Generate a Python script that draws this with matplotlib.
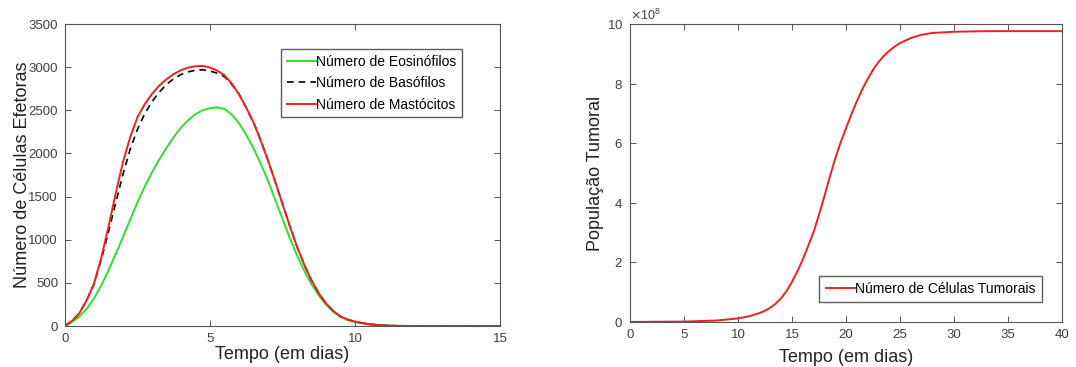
import numpy as np
import matplotlib
matplotlib.use("Agg")
from matplotlib import pyplot as plt
from matplotlib.ticker import ScalarFormatter

plt.rcParams['font.family'] = ['Liberation Sans', 'DejaVu Sans']

# Left panel: effector cells
t_cells = [0, 0.25, 0.5, 0.75, 1, 1.25, 1.5, 1.75, 2, 2.25, 2.5, 2.75, 3, 3.25, 3.5, 3.75,
           4, 4.25, 4.5, 4.75, 5, 5.25, 5.5, 5.75, 6, 6.25, 6.5, 6.75, 7, 7.25, 7.5, 7.75,
           8, 8.25, 8.5, 8.75, 9, 9.25, 9.5, 9.75, 10, 10.5, 11, 11.5, 12, 13, 14, 15]
eosinofilos = [0, 50, 110, 200, 320, 470, 645, 835, 1030, 1235, 1435, 1615, 1780, 1930, 2065, 2190,
               2300, 2385, 2455, 2500, 2525, 2535, 2515, 2450, 2350, 2215, 2060, 1880, 1685, 1460, 1242, 1020,
               820, 640, 485, 355, 248, 165, 105, 70, 45, 18, 6, 2, 0, 0, 0, 0]
basofilos = [0, 60, 150, 300, 485, 770, 1090, 1430, 1760, 2050, 2280, 2460, 2600, 2710, 2800, 2865,
             2915, 2945, 2965, 2970, 2955, 2930, 2890, 2800, 2685, 2530, 2360, 2150, 1920, 1670, 1415, 1160,
             920, 710, 530, 380, 262, 175, 110, 75, 50, 20, 6, 2, 0, 0, 0, 0]
mastocitos = [0, 60, 150, 300, 490, 790, 1150, 1540, 1900, 2190, 2420, 2570, 2690, 2785, 2860, 2920,
              2965, 2995, 3010, 3015, 2995, 2960, 2905, 2810, 2685, 2530, 2360, 2150, 1920, 1670, 1415, 1160,
              920, 710, 530, 380, 262, 175, 110, 75, 50, 20, 6, 2, 0, 0, 0, 0]

# Right panel: tumour population
t_tumor = [0, 5, 8, 10, 11, 12, 12.5, 13, 13.5, 14, 14.5, 15, 15.5, 16, 16.5, 17, 17.5, 18, 18.5, 19, 19.5,
           20, 20.5, 21, 21.5, 22, 22.5, 23, 23.5, 24, 24.5, 25, 26, 27, 28, 30, 33, 40]
tumor = [0.002e8, 0.015e8, 0.05e8, 0.12e8, 0.19e8, 0.3e8, 0.38e8, 0.48e8, 0.62e8, 0.8e8, 1.04e8, 1.35e8,
         1.7e8, 2.1e8, 2.55e8, 3.02e8, 3.6e8, 4.22e8, 4.87e8, 5.48e8, 6.02e8, 6.5e8, 6.97e8, 7.4e8, 7.8e8,
         8.15e8, 8.46e8, 8.72e8, 8.93e8, 9.1e8, 9.24e8, 9.36e8, 9.53e8, 9.64e8, 9.7e8, 9.74e8, 9.76e8, 9.76e8]

green = '#2ee02e'
red = '#ee2020'
edge = '#555555'
tick_col = '#404040'

fig = plt.figure(figsize=(10.76, 3.67), dpi=100)
ax1 = fig.add_axes([0.0604, 0.1117, 0.4043, 0.8229])
ax2 = fig.add_axes([0.5855, 0.1226, 0.4015, 0.8120])

ax1.plot(t_cells, eosinofilos, color=green, lw=1.4, label='Número de Eosinófilos')
ax1.plot(t_cells, basofilos, color='black', lw=1.2, ls=(0, (4, 3)), label='Número de Basófilos')
ax1.plot(t_cells, mastocitos, color=red, lw=1.4, label='Número de Mastócitos')
ax1.set_xlim(0, 15)
ax1.set_ylim(0, 3500)
ax1.set_xticks([0, 5, 10, 15])
ax1.set_yticks(np.arange(0, 3501, 500))
ax1.set_xlabel('Tempo (em dias)', fontsize=13, labelpad=1)
ax1.set_ylabel('Número de Células Efetoras', fontsize=13, labelpad=-2)
ax1.legend(loc='upper right', bbox_to_anchor=(0.913, 0.917), fontsize=10, frameon=True,
           fancybox=False, edgecolor='#333333', handlelength=2.1, handletextpad=0.05,
           borderaxespad=0, borderpad=0.4, labelspacing=0.55)

ax2.plot(t_tumor, tumor, color=red, lw=1.4, label='Número de Células Tumorais')
ax2.set_xlim(0, 40)
ax2.set_ylim(0, 10e8)
ax2.set_xticks(np.arange(0, 41, 5))
ax2.set_yticks(np.arange(0, 10.1e8, 2e8))
fmt = ScalarFormatter(useMathText=True)
fmt.set_powerlimits((8, 8))
ax2.yaxis.set_major_formatter(fmt)
ax2.yaxis.get_offset_text().set_color(tick_col)
ax2.yaxis.get_offset_text().set_fontsize(9)
ax2.set_xlabel('Tempo (em dias)', fontsize=13, labelpad=6)
ax2.set_ylabel('População Tumoral', fontsize=13, labelpad=2)
ax2.legend(loc='lower right', bbox_to_anchor=(0.954, 0.067), fontsize=10, frameon=True,
           fancybox=False, edgecolor='#333333', handlelength=2.1, handletextpad=0.05,
           borderaxespad=0, borderpad=0.45)

for ax in (ax1, ax2):
    for s in ax.spines.values():
        s.set_color(edge)
        s.set_linewidth(0.8)
    ax.tick_params(direction='in', top=True, right=True, length=4, width=0.7,
                   colors=edge, labelcolor=tick_col, labelsize=9.5, pad=5)
    ax.xaxis.label.set_color('#222222')
    ax.yaxis.label.set_color('#222222')

fig.savefig('out.png', dpi=100)
